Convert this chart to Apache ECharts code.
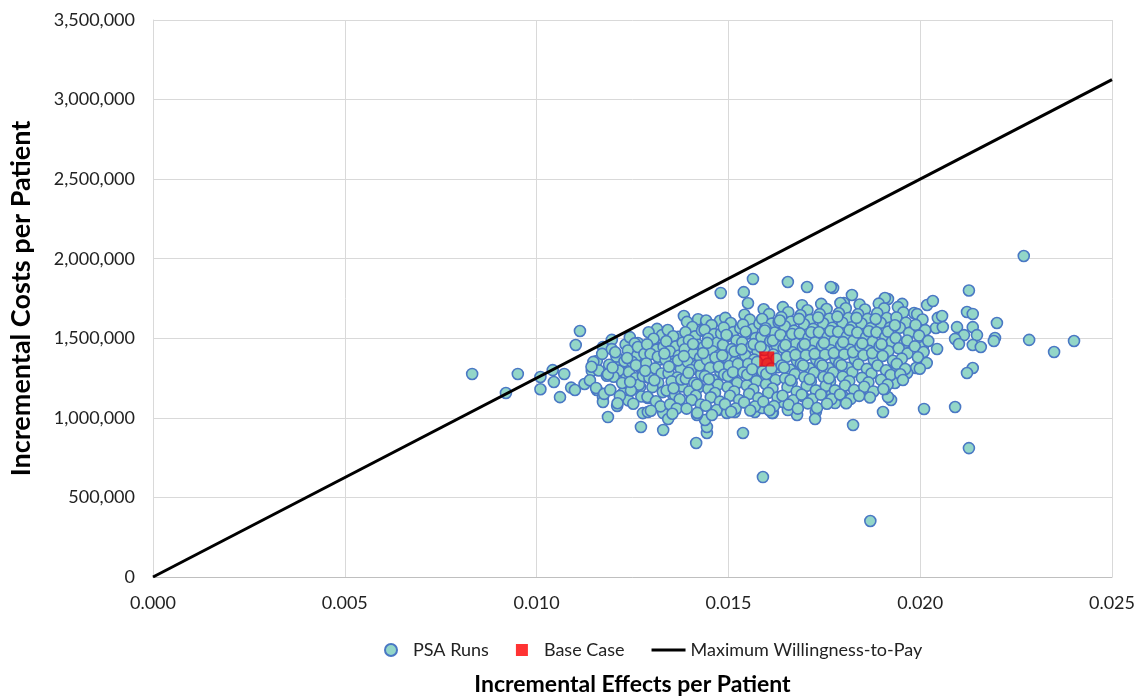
<!DOCTYPE html>
<html>
<head>
<meta charset="utf-8">
<script src="https://cdn.jsdelivr.net/npm/echarts@6/dist/echarts.min.js"></script>
<style>
html,body{margin:0;padding:0;background:#fff;}
#chart{width:1140px;height:699px;}
</style>
</head>
<body>
<div id="chart"></div>
<script>
// Axis ticks
const xTicks = [0.000, 0.005, 0.010, 0.015, 0.020, 0.025];
const yTicks = [0, 500000, 1000000, 1500000, 2000000, 2500000, 3000000, 3500000];

// Base case [effect, cost]
const baseCase = [[0.0160, 1370000]];

// Maximum willingness-to-pay line endpoints [effect, cost]
const wtpLine = [[0, 0], [0.025, 3125000]];

// PSA runs: outlying / edge points [effect, cost]
const psaEdge = [
[0.00832,1276000],[0.00920,1156000],[0.00951,1276000],[0.01010,1257000],[0.01010,1180000],[0.01042,1300000],[0.01072,1276000],[0.01090,1190000],[0.01100,1175000],[0.01061,1130000],[0.01045,1225000],[0.01113,1546000],[0.01102,1458000],[0.01125,1213000],[0.01144,1295000],[0.01157,1357000],[0.01173,1445000],[0.01196,1490000],[0.01157,1175000],[0.01173,1130000],[0.01173,1100000],[0.01186,1005000],[0.01210,1075000],[0.01218,1345000],[0.01231,1280000],[0.01226,1156000],[0.01239,1110000],[0.01264,1470000],[0.01277,1440000],[0.01270,1395000],[0.01270,1320000],[0.01288,1257000],[0.01270,1194000],[0.01290,1125000],[0.01277,1030000],[0.01290,1037000],[0.01272,943000],[0.01314,1559000],[0.01327,1520000],[0.01348,1520000],[0.01369,1510000],[0.01327,1445000],[0.01343,1383000],[0.01361,1427000],[0.01356,1144000],[0.01330,1030000],[0.01343,993000],[0.01330,924000],[0.01384,1640000],[0.01421,1620000],[0.01442,1600000],[0.01442,1570000],[0.01478,1610000],[0.01480,1785000],[0.01564,1873000],[0.01540,1790000],[0.01551,1720000],[0.01416,842000],[0.01538,905000],[0.01444,905000],[0.01444,943000],[0.01439,987000],[0.01418,1018000],[0.01473,1049000],[0.01496,1031000],[0.01517,1037000],[0.01569,1037000],[0.01588,1062000],[0.01616,1031000],[0.01642,1100000],[0.01590,628000],
[0.02270,2017000],[0.02127,1800000],[0.02122,1665000],[0.02137,1653000],[0.02200,1596000],[0.02096,1570000],[0.02137,1570000],[0.02148,1520000],[0.02114,1520000],[0.02091,1496000],[0.02101,1464000],[0.02137,1458000],[0.02158,1445000],[0.02195,1502000],[0.02192,1483000],[0.02284,1490000],[0.02349,1414000],[0.02401,1483000],[0.02137,1313000],[0.02122,1282000],[0.02091,1068000],[0.02127,810000],[0.02010,1056000],[0.01825,955000],[0.01870,352000],
[0.01728,1037000],[0.01726,993000],[0.01679,1018000],[0.01655,1049000],[0.01614,1031000],[0.01668,1100000],[0.01694,1137000],[0.01778,1093000],[0.01812,1112000],[0.01843,1156000],[0.01796,1144000],[0.01770,1150000],[0.01903,1037000],[0.01924,1112000],[0.01916,1131000],[0.01908,1181000],[0.01934,1219000],[0.01940,1320000],
[0.01989,1313000],[0.01966,1282000],[0.02007,1445000],[0.02044,1433000],[0.02005,1552000],[0.02041,1565000],[0.02059,1571000],[0.02046,1628000],[0.02057,1640000],[0.02018,1709000],[0.02033,1734000],[0.01984,1659000],[0.01953,1716000],[0.01916,1747000],[0.01908,1753000],[0.01822,1772000],[0.01801,1722000],[0.01773,1816000],[0.01767,1822000],[0.01705,1822000],[0.01655,1854000]
];

// PSA runs: dense core [effect, cost]
const psaCore = [
[0.01148,1352000],[0.01162,1298000],[0.01139,1236000],[0.01171,1402000],[0.01155,1188000],[0.01183,1265000],[0.01143,1321000],[0.01176,1151000],
[0.01196,1432000],[0.01208,1385000],[0.01189,1334000],[0.01214,1297000],[0.01201,1258000],[0.01223,1219000],[0.01192,1176000],[0.01217,1138000],[0.01205,1412000],[0.01229,1356000],[0.01186,1274000],[0.01211,1092000],[0.01232,1461000],[0.01198,1316000],
[0.01243,1507000],[0.01256,1468000],[0.01238,1423000],[0.01262,1391000],[0.01249,1352000],[0.01271,1318000],[0.01241,1287000],[0.01258,1249000],[0.01267,1208000],[0.01246,1172000],[0.01273,1134000],[0.01252,1089000],[0.01236,1376000],[0.01264,1445000],[0.01277,1263000],[0.01244,1226000],[0.01259,1331000],[0.01281,1402000],
[0.01292,1538000],[0.01305,1497000],[0.01288,1462000],[0.01313,1428000],[0.01297,1401000],[0.01321,1367000],[0.01286,1342000],[0.01309,1311000],[0.01326,1279000],[0.01294,1252000],[0.01317,1221000],[0.01302,1193000],[0.01329,1162000],[0.01289,1131000],[0.01311,1104000],[0.01323,1072000],[0.01298,1045000],[0.01316,1384000],[0.01331,1446000],[0.01283,1296000],[0.01307,1236000],
[0.01342,1552000],[0.01356,1513000],[0.01338,1481000],[0.01363,1449000],[0.01347,1418000],[0.01371,1392000],[0.01336,1365000],[0.01359,1339000],[0.01376,1308000],[0.01344,1281000],[0.01367,1254000],[0.01352,1229000],[0.01379,1198000],[0.01339,1172000],[0.01361,1143000],[0.01373,1117000],[0.01348,1085000],[0.01365,1058000],[0.01354,1026000],[0.01381,1473000],[0.01333,1404000],[0.01369,1361000],[0.01345,1322000],[0.01377,1241000],[0.01357,1186000],
[0.01392,1603000],[0.01406,1571000],[0.01388,1538000],[0.01413,1512000],[0.01397,1487000],[0.01421,1459000],[0.01386,1431000],[0.01409,1405000],[0.01426,1378000],[0.01394,1352000],[0.01417,1327000],[0.01402,1301000],[0.01429,1274000],[0.01389,1246000],[0.01411,1219000],[0.01423,1193000],[0.01398,1166000],[0.01415,1139000],[0.01404,1112000],[0.01428,1084000],[0.01391,1058000],[0.01419,1031000],[0.01431,1548000],[0.01384,1388000],[0.01408,1464000],[0.01425,1329000],[0.01396,1283000],[0.01418,1208000],
[0.01442,1612000],[0.01456,1583000],[0.01438,1552000],[0.01463,1526000],[0.01447,1497000],[0.01471,1472000],[0.01436,1446000],[0.01459,1419000],[0.01476,1393000],[0.01444,1366000],[0.01467,1341000],[0.01452,1314000],[0.01479,1288000],[0.01439,1262000],[0.01461,1236000],[0.01473,1209000],[0.01448,1182000],[0.01465,1156000],[0.01454,1129000],[0.01478,1102000],[0.01441,1076000],[0.01469,1049000],[0.01457,1018000],[0.01481,1531000],[0.01434,1407000],[0.01466,1379000],[0.01449,1243000],[0.01475,1321000],[0.01445,1471000],
[0.01492,1628000],[0.01506,1596000],[0.01488,1567000],[0.01513,1539000],[0.01497,1512000],[0.01521,1486000],[0.01486,1458000],[0.01509,1432000],[0.01526,1405000],[0.01494,1379000],[0.01517,1352000],[0.01502,1326000],[0.01529,1299000],[0.01489,1272000],[0.01511,1246000],[0.01523,1219000],[0.01498,1193000],[0.01515,1166000],[0.01504,1139000],[0.01528,1112000],[0.01491,1086000],[0.01519,1059000],[0.01507,1038000],[0.01531,1563000],[0.01484,1392000],[0.01516,1418000],[0.01499,1263000],[0.01525,1339000],[0.01495,1521000],[0.01512,1287000],
[0.01542,1648000],[0.01556,1617000],[0.01538,1586000],[0.01563,1557000],[0.01547,1529000],[0.01571,1501000],[0.01536,1474000],[0.01559,1447000],[0.01576,1419000],[0.01544,1392000],[0.01567,1366000],[0.01552,1339000],[0.01579,1312000],[0.01539,1285000],[0.01561,1258000],[0.01573,1231000],[0.01548,1204000],[0.01565,1178000],[0.01554,1151000],[0.01578,1124000],[0.01541,1097000],[0.01569,1071000],[0.01557,1046000],[0.01581,1592000],[0.01534,1431000],[0.01566,1463000],[0.01549,1271000],[0.01575,1352000],[0.01545,1541000],[0.01562,1305000],
[0.01592,1682000],[0.01606,1652000],[0.01588,1621000],[0.01613,1592000],[0.01597,1563000],[0.01621,1536000],[0.01586,1508000],[0.01609,1481000],[0.01626,1453000],[0.01594,1426000],[0.01617,1398000],[0.01602,1341000],[0.01629,1318000],[0.01589,1292000],[0.01611,1265000],[0.01623,1238000],[0.01598,1211000],[0.01615,1184000],[0.01604,1157000],[0.01628,1129000],[0.01591,1102000],[0.01619,1074000],[0.01607,1048000],[0.01631,1601000],[0.01584,1446000],[0.01616,1486000],[0.01599,1276000],[0.01625,1372000],[0.01595,1549000],[0.01612,1311000],
[0.01642,1696000],[0.01656,1664000],[0.01638,1633000],[0.01663,1604000],[0.01647,1576000],[0.01671,1548000],[0.01636,1521000],[0.01659,1493000],[0.01676,1466000],[0.01644,1439000],[0.01667,1412000],[0.01652,1384000],[0.01679,1357000],[0.01639,1329000],[0.01661,1302000],[0.01673,1275000],[0.01648,1248000],[0.01665,1221000],[0.01654,1193000],[0.01678,1166000],[0.01641,1139000],[0.01669,1111000],[0.01657,1083000],[0.01681,1058000],[0.01634,1612000],[0.01666,1527000],[0.01649,1458000],[0.01675,1396000],[0.01645,1316000],[0.01662,1236000],
[0.01692,1708000],[0.01706,1676000],[0.01688,1645000],[0.01713,1616000],[0.01697,1588000],[0.01721,1559000],[0.01686,1531000],[0.01709,1504000],[0.01726,1476000],[0.01694,1448000],[0.01717,1421000],[0.01702,1393000],[0.01729,1366000],[0.01689,1338000],[0.01711,1311000],[0.01723,1283000],[0.01698,1256000],[0.01715,1228000],[0.01704,1201000],[0.01728,1173000],[0.01691,1146000],[0.01719,1118000],[0.01707,1091000],[0.01731,1062000],[0.01684,1622000],[0.01716,1538000],[0.01699,1463000],[0.01725,1402000],[0.01695,1329000],[0.01712,1243000],
[0.01742,1716000],[0.01756,1684000],[0.01738,1652000],[0.01763,1623000],[0.01747,1594000],[0.01771,1566000],[0.01736,1538000],[0.01759,1509000],[0.01776,1481000],[0.01744,1453000],[0.01767,1425000],[0.01752,1397000],[0.01779,1369000],[0.01739,1341000],[0.01761,1313000],[0.01773,1285000],[0.01748,1257000],[0.01765,1229000],[0.01754,1201000],[0.01778,1173000],[0.01741,1146000],[0.01769,1118000],[0.01757,1089000],[0.01734,1631000],[0.01766,1546000],[0.01749,1471000],[0.01775,1408000],[0.01745,1329000],[0.01762,1249000],
[0.01792,1722000],[0.01806,1689000],[0.01788,1657000],[0.01813,1627000],[0.01797,1598000],[0.01821,1569000],[0.01786,1541000],[0.01809,1512000],[0.01826,1484000],[0.01794,1456000],[0.01817,1428000],[0.01802,1399000],[0.01829,1371000],[0.01789,1343000],[0.01811,1315000],[0.01823,1287000],[0.01798,1259000],[0.01815,1231000],[0.01804,1203000],[0.01828,1175000],[0.01791,1147000],[0.01819,1119000],[0.01807,1092000],[0.01784,1636000],[0.01816,1551000],[0.01799,1476000],[0.01825,1412000],[0.01795,1331000],
[0.01842,1712000],[0.01856,1681000],[0.01838,1651000],[0.01863,1622000],[0.01847,1593000],[0.01871,1564000],[0.01836,1536000],[0.01859,1507000],[0.01876,1478000],[0.01844,1449000],[0.01867,1421000],[0.01852,1393000],[0.01879,1364000],[0.01839,1336000],[0.01861,1308000],[0.01873,1279000],[0.01848,1251000],[0.01865,1223000],[0.01854,1195000],[0.01878,1166000],[0.01841,1138000],[0.01869,1128000],[0.01834,1628000],[0.01866,1544000],[0.01849,1468000],[0.01875,1407000],
[0.01892,1718000],[0.01906,1688000],[0.01888,1657000],[0.01913,1627000],[0.01897,1597000],[0.01921,1567000],[0.01886,1538000],[0.01909,1508000],[0.01926,1478000],[0.01894,1449000],[0.01917,1419000],[0.01902,1389000],[0.01929,1359000],[0.01889,1329000],[0.01911,1299000],[0.01923,1269000],[0.01898,1239000],[0.01915,1209000],[0.01904,1181000],[0.01884,1621000],[0.01916,1542000],[0.01899,1463000],
[0.01942,1696000],[0.01956,1663000],[0.01938,1631000],[0.01963,1598000],[0.01947,1566000],[0.01971,1534000],[0.01936,1502000],[0.01959,1469000],[0.01944,1437000],[0.01967,1405000],[0.01952,1372000],[0.01939,1339000],[0.01961,1307000],[0.01948,1274000],[0.01955,1238000],[0.01934,1582000],[0.01966,1486000],
[0.01992,1652000],[0.02006,1618000],[0.01988,1584000],[0.02013,1551000],[0.01997,1517000],[0.02021,1483000],[0.01986,1449000],[0.02009,1414000],[0.01994,1381000],[0.02017,1345000],[0.01999,1309000]
];

const psaRuns = psaEdge.concat(psaCore);

const FONT = 'Lato';
const chart = echarts.init(document.getElementById('chart'), null, {renderer: 'canvas'});
chart.setOption({
  animation: false,
  backgroundColor: '#ffffff',
  textStyle: {fontFamily: FONT},
  grid: {left: 153, right: 28, top: 20, bottom: 122, containLabel: false, outerBoundsMode: 'none'},
  xAxis: {
    type: 'value',
    min: xTicks[0], max: xTicks[xTicks.length - 1], interval: 0.005,
    name: 'Incremental Effects per Patient',
    nameLocation: 'middle', nameGap: 96,
    nameTextStyle: {fontFamily: FONT, fontSize: 23, fontWeight: 'bold', color: '#000'},
    axisLine: {show: true, lineStyle: {color: '#bfbfbf', width: 1}},
    axisTick: {show: false},
    axisLabel: {fontFamily: FONT, fontSize: 18, color: '#222', margin: 17,
      formatter: v => v.toFixed(3)},
    splitLine: {show: true, lineStyle: {color: '#d9d9d9', width: 1}}
  },
  yAxis: {
    type: 'value',
    min: yTicks[0], max: yTicks[yTicks.length - 1], interval: 500000,
    name: 'Incremental Costs per Patient',
    nameLocation: 'middle', nameGap: 118, nameRotate: 90,
    nameTextStyle: {fontFamily: FONT, fontSize: 27, fontWeight: 'bold', color: '#000'},
    axisLine: {show: true, lineStyle: {color: '#d9d9d9', width: 1}},
    axisTick: {show: false},
    axisLabel: {fontFamily: FONT, fontSize: 18, color: '#222', margin: 18,
      formatter: v => v.toLocaleString('en-US')},
    splitLine: {show: true, lineStyle: {color: '#d9d9d9', width: 1}}
  },
  legend: {
    left: 379, top: 636,
    itemWidth: 34, itemHeight: 12, itemGap: 27,
    symbolKeepAspect: true,
    textStyle: {fontFamily: FONT, fontSize: 18, color: '#222'},
    data: [
      {name: 'PSA Runs', icon: 'circle'},
      {name: 'Base Case', icon: 'path://M0,0L10,0L10,10L0,10Z'},
      {name: 'Maximum Willingness-to-Pay', icon: 'path://M0,0L34,0L34,3L0,3Z'}
    ]
  },
  series: [
    {
      name: 'PSA Runs', type: 'scatter', data: psaRuns,
      symbol: 'circle', symbolSize: 11,
      itemStyle: {color: '#93d6c8', borderColor: '#4a78c4', borderWidth: 1.6, opacity: 1},
      z: 2
    },
    {
      name: 'Base Case', type: 'scatter', data: baseCase,
      symbol: 'rect', symbolSize: 15,
      itemStyle: {color: '#ff0000'},
      z: 3
    },
    {
      name: 'Maximum Willingness-to-Pay', type: 'line', data: wtpLine,
      symbol: 'none', showSymbol: false,
      lineStyle: {color: '#000000', width: 3},
      itemStyle: {color: '#000000'},
      z: 4
    }
  ]
});
</script>
</body>
</html>
